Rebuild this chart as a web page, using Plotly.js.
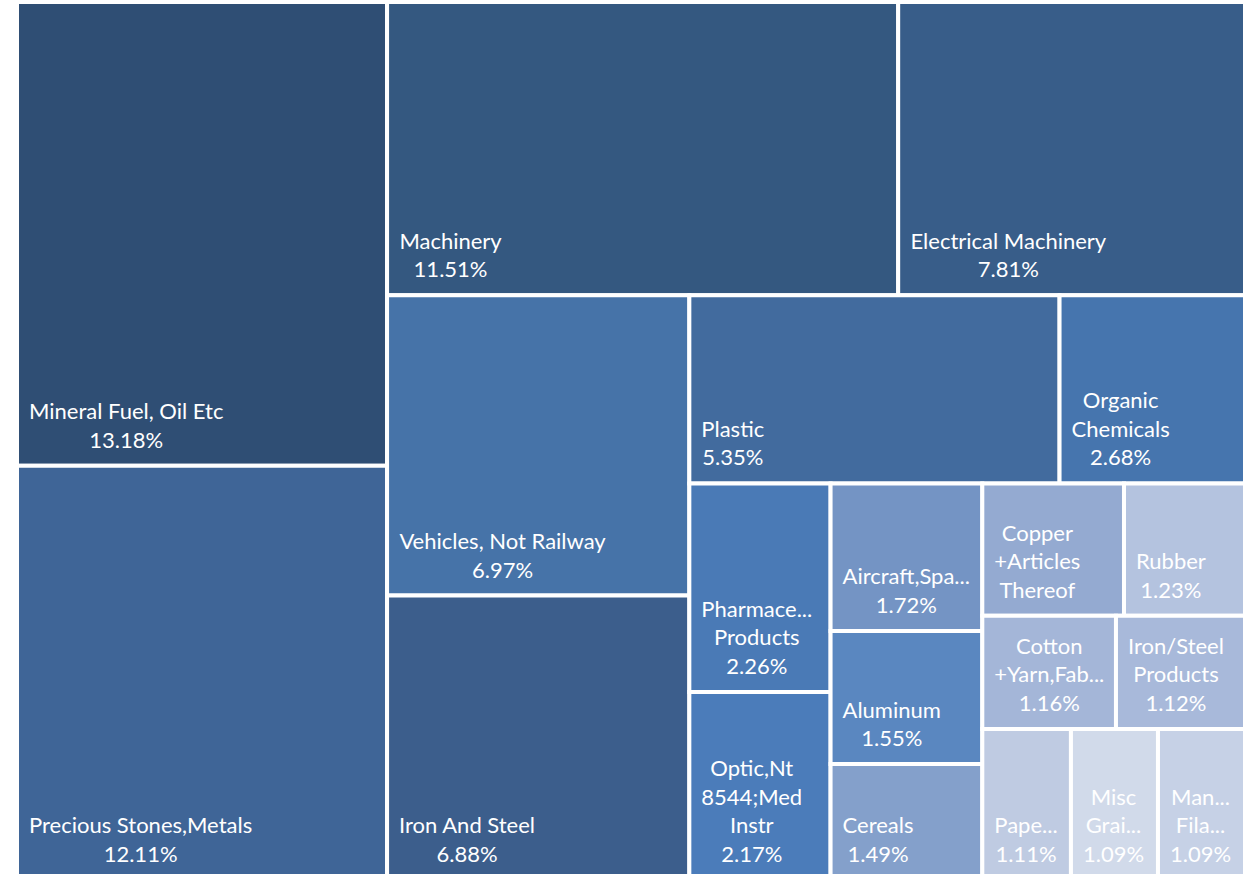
<!DOCTYPE html>
<html>
<head>
<meta charset="utf-8">
<script src="https://cdn.plot.ly/plotly-3.0.1.min.js"></script>
<style>html,body{margin:0;padding:0;background:#fff;overflow:hidden;}#chart{width:1245px;height:892px;}</style>
</head>
<body>
<div id="chart"></div>
<script>
const categories = [
  "Mineral Fuel, Oil Etc", "Precious Stones,Metals", "Machinery", "Electrical Machinery",
  "Vehicles, Not Railway", "Iron And Steel", "Plastic", "Organic Chemicals",
  "Pharmaceutical Products", "Optic,Nt 8544;Med Instr", "Aircraft,Spacecraft", "Aluminum",
  "Cereals", "Copper +Articles Thereof", "Rubber", "Cotton +Yarn,Fabrics",
  "Iron/Steel Products", "Paper", "Misc Grain", "Man-Made Filaments"
];
const shownLabels = [
  "Mineral Fuel, Oil Etc", "Precious Stones,Metals", "Machinery", "Electrical Machinery",
  "Vehicles, Not Railway", "Iron And Steel", "Plastic", "Organic<br>Chemicals",
  "Pharmace...<br>Products", "Optic,Nt<br>8544;Med<br>Instr", "Aircraft,Spa...", "Aluminum",
  "Cereals", "Copper<br>+Articles<br>Thereof", "Rubber", "Cotton<br>+Yarn,Fab...",
  "Iron/Steel<br>Products", "Pape...", "Misc<br>Grai...", "Man...<br>Fila..."
];
const sharePct = [
  13.18, 12.11, 11.51, 7.81,
  6.97, 6.88, 5.35, 2.68,
  2.26, 2.17, 1.72, 1.55,
  1.49, 1.44, 1.23, 1.16,
  1.12, 1.11, 1.09, 1.09
];
const showPct = [
  true, true, true, true, true, true, true, true, true, true,
  true, true, true, false, true, true, true, true, true, true
];
const tileColors = [
  "#2f4e74", "#3f6597", "#345880", "#385d89",
  "#4673a8", "#3c5e8c", "#426b9e", "#4675ae",
  "#4a7ab6", "#4b7cba", "#7494c4", "#5a87c0",
  "#84a0cb", "#94aad1", "#b4c3df", "#a4b6d8",
  "#a8b9da", "#bfcbe2", "#d1daea", "#c6d1e6"
];

const texts = shownLabels.map((l, i) => showPct[i] ? l + "<br>" + sharePct[i].toFixed(2) + "%" : l);

const trace = {
  type: "treemap",
  labels: categories,
  parents: categories.map(() => ""),
  values: sharePct,
  text: texts,
  texttemplate: "%{text}",
  textposition: "bottom left",
  hoverinfo: "label+value",
  sort: true,
  marker: {
    colors: tileColors,
    line: {color: "#ffffff", width: 4},
    pad: {t: 0, l: 0, r: 0, b: 0}
  },
  textfont: {family: "Lato, 'DejaVu Sans', sans-serif", size: 22, color: "#ffffff"},
  pathbar: {visible: false},
  tiling: {packing: "squarify", squarifyratio: 1, pad: 0}
};

const layout = {
  width: 1245,
  height: 892,
  margin: {l: 17, r: 0, t: 2, b: 0},
  paper_bgcolor: "#ffffff",
  uniformtext: {minsize: 22, mode: "show"},
  showlegend: false
};

const VIEW_H = 874;

function centerLines() {
  document.querySelectorAll('#chart g.slicetext text').forEach(t => {
    const bb = t.getBBox();
    const cx = bb.x + bb.width / 2;
    t.setAttribute('text-anchor', 'middle');
    t.style.textAnchor = 'middle';
    t.setAttribute('x', cx);
    t.querySelectorAll('tspan.line').forEach(s => s.setAttribute('x', cx));
    let dy = -10;
    const slice = t.closest('g.slice');
    const surf = slice ? slice.querySelector('path.surface') : null;
    if (surf) {
      const r = surf.getBoundingClientRect();
      if (r.bottom > VIEW_H) dy -= (r.bottom - (VIEW_H + 6));
    }
    t.setAttribute('transform', 'translate(9,' + dy + ') ' + (t.getAttribute('transform') || ''));
  });
}

Plotly.newPlot("chart", [trace], layout, {displayModeBar: false, staticPlot: true}).then(centerLines);
</script>
</body>
</html>
